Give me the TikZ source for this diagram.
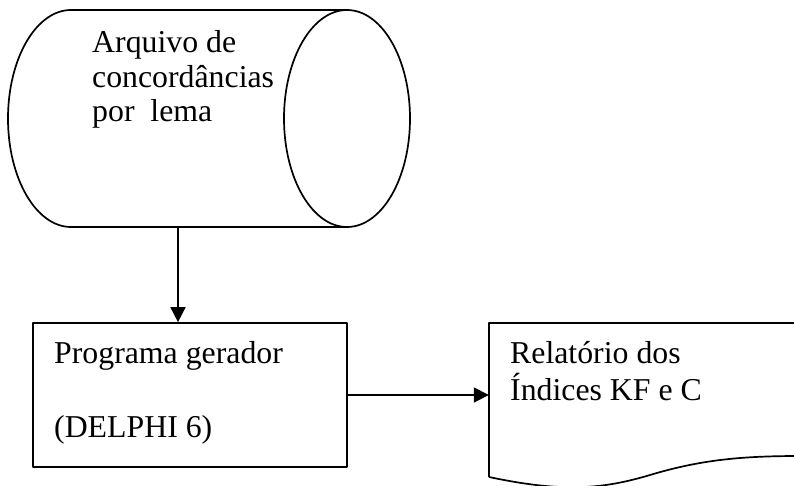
\documentclass[tikz,border=0pt]{standalone}
\usepackage{fontspec}
\setmainfont{Liberation Serif}
\usetikzlibrary{arrows.meta}
\begin{document}
\begin{tikzpicture}[x=1pt,y=-1pt,
  shapeline/.style={line width=1.7pt, line join=round},
  conn/.style={line width=1.7pt, -{Triangle[length=15pt,width=15pt]}},
  lbl/.style={anchor=base west, inner sep=0pt, font=\fontsize{31.8}{35.5}\selectfont}]
\useasboundingbox (0,0) rectangle (794,486);
\clip (0,0) rectangle (794,486);
% cylinder
\draw[shapeline] (347,10) -- (71,10) arc[start angle=90, end angle=270, x radius=63pt, y radius=108.5pt] -- (347,227);
\draw[shapeline] (347,118.5) ellipse [x radius=63pt, y radius=108.5pt];
\node[inner sep=0pt, minimum width=402pt, minimum height=217pt] (cyl) at (209,118.5) {};
\coordinate (cylout) at (178,227);
\node[lbl] (c1) at (92,53) {Arquivo de};
\node[lbl] (c2) at (92,88) {concordâncias};
\node[lbl] (c3) at (92,121.5) {por\ \ lema};
% program box
\node[shapeline, draw, inner sep=0pt, minimum width=314pt, minimum height=144pt] (box) at (190,395) {};
\node[lbl] (b1) at (54,363) {Programa gerador};
\node[lbl] (b2) at (54,437) {(DELPHI 6)};
% document
\draw[shapeline] (489,477) -- (489,323) -- (800,323);
\draw[shapeline] (489,477) .. controls (560,492) and (600,490) .. (650,475) .. controls (700,460) and (740,456) .. (800,456);
\node[inner sep=0pt, minimum width=311pt, minimum height=154pt] (doc) at (644.5,400) {};
\node[lbl] (d1) at (510,363) {Relatório dos};
\node[lbl] (d2) at (510,400) {Índices KF e C};
% connectors
\draw[conn] (cylout) -- (cylout |- box.north);
\draw[conn] (box.east) -- (doc.west |- box.east);
\end{tikzpicture}
\end{document}
